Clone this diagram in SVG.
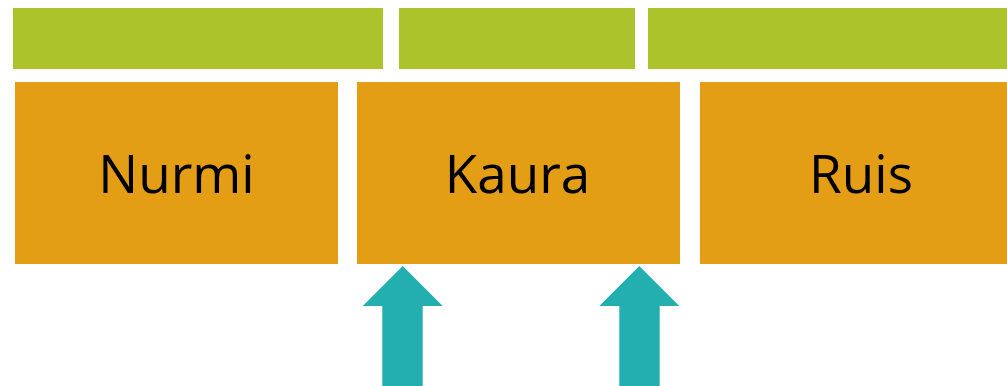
<svg xmlns="http://www.w3.org/2000/svg" width="1007" height="386" viewBox="0 0 1007 386">
<style>
.bar{fill:#adc32b}
.box{fill:#e39e15}
.lbl{font-family:"Open Sans","Liberation Sans",sans-serif;font-size:53px;fill:#000;text-anchor:middle}
.arr{fill:#23afaf}
</style>
<rect width="1007" height="386" fill="#fff"/>
<g id="bars">
<rect class="bar" x="13" y="8" width="370" height="61"/>
<rect class="bar" x="399" y="8" width="236" height="61"/>
<rect class="bar" x="648" y="8" width="359" height="61"/>
</g>
<g id="nurmi"><rect class="box" x="15" y="82" width="323" height="182"/><text class="lbl" x="176.5" y="193">Nurmi</text></g>
<g id="kaura"><rect class="box" x="357" y="82" width="323" height="182"/><text class="lbl" x="517.5" y="193">Kaura</text></g>
<g id="ruis"><rect class="box" x="700" y="82" width="307" height="182"/><text class="lbl" x="861" y="193">Ruis</text></g>
<g id="connectors">
<polygon class="arr" points="402.7,266 442.7,306 422.7,306 422.7,386 382.3,386 382.3,306 362.7,306"/>
<polygon class="arr" points="639.3,266 679.3,306 659.7,306 659.7,386 619.3,386 619.3,306 599.3,306"/>
</g>
</svg>
